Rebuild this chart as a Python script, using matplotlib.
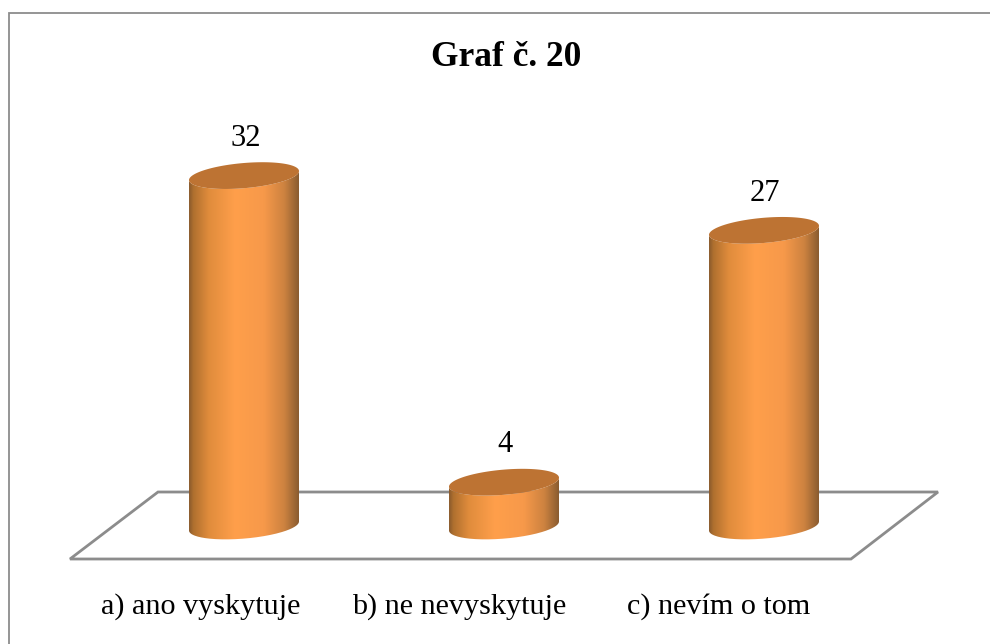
import numpy as np
import matplotlib
matplotlib.use('Agg')
import matplotlib.pyplot as plt
from matplotlib.colors import LinearSegmentedColormap
from matplotlib.patches import PathPatch, Polygon
from matplotlib.path import Path

categories = ['a) ano vyskytuje', 'b) ne nevyskytuje', 'c) nevím o tom']
values = [32, 4, 27]
title = 'Graf č. 20'

W, H = 990, 644
x0, x_step = 244, 260    # pixel of first bar, pixels between bars
y0, y_step = 526, 10.95  # pixel of value 0, pixels per unit

plt.rcParams['font.family'] = ['Liberation Serif', 'DejaVu Serif']

fig = plt.figure(figsize=(W / 100, H / 100), dpi=100)
ax = fig.add_axes([0, 0, 1, 1])
xlim = ((0 - x0) / x_step, (W - x0) / x_step)
ylim = ((y0 - H) / y_step, y0 / y_step)
ax.axis('off')


def px(x, y):
    # image pixels -> data coords, for the decoration that is not data
    return (x - x0) / x_step, (y0 - y) / y_step


# frame, only top and left show
frame = [px(990, 12.5), px(8.5, 12.5), px(8.5, 644)]
ax.plot(*zip(*frame), color='#8c8c8c', lw=1.3, solid_joinstyle='miter')

# floor
floor = Polygon([px(70, 559), px(158, 492), px(938, 492), px(851, 559)],
                closed=True, fill=False, edgecolor='#8c8c8c', lw=2.0, zorder=1)
ax.add_patch(floor)

# cylinders
half_w = 55 / x_step
tilt = 4.5 / y_step
depth = 12.6 / y_step
side_cmap = LinearSegmentedColormap.from_list('side', [
    (0.0, '#8a5a2c'), (0.04, '#b0702f'), (0.18, '#e08c3c'),
    (0.42, '#ff9f4b'), (0.68, '#f7994a'), (0.87, '#cc8240'), (1.0, '#8a5c30')])
top_color = '#bd7333'
t = np.linspace(0, 2 * np.pi, 241)

for i, v in enumerate(values):
    ell_x = i + half_w * np.cos(t)
    ell_y = tilt * np.cos(t) + depth * np.sin(t)
    # side outline: lower half of base ellipse, then back along the same curve at the top
    low = np.sin(t) <= 0
    order = np.argsort(ell_x[low])
    sx = ell_x[low][order]
    sy = ell_y[low][order]
    outline = np.vstack([np.column_stack([sx, sy]),
                         np.column_stack([sx[::-1], sy[::-1] + v]),
                         [sx[0], sy[0]]])
    grad = np.linspace(0, 1, 256).reshape(1, -1)
    im = ax.imshow(grad, cmap=side_cmap, aspect='auto', zorder=2,
                   extent=(i - half_w, i + half_w, -2, v + 2))
    im.set_clip_path(PathPatch(Path(outline), transform=ax.transData))
    ax.fill(ell_x, v + ell_y, color=top_color, lw=0, zorder=3)
    ax.text(i + 0.005, v + 3.4, str(v), ha='center', va='center', fontsize=22, color='black')

ax.set_xlim(*xlim)
ax.set_ylim(*ylim)

# category labels
label_px = [200.5, 459, 719]
for lx, c in zip(label_px, categories):
    ax.text(*px(lx, 607), c, ha='center', va='center', fontsize=21.7, color='black')

ax.text(*px(506, 58), title, ha='center', va='center', fontsize=25.5, fontweight='bold', color='black')

fig.savefig('out.png', dpi=100)
